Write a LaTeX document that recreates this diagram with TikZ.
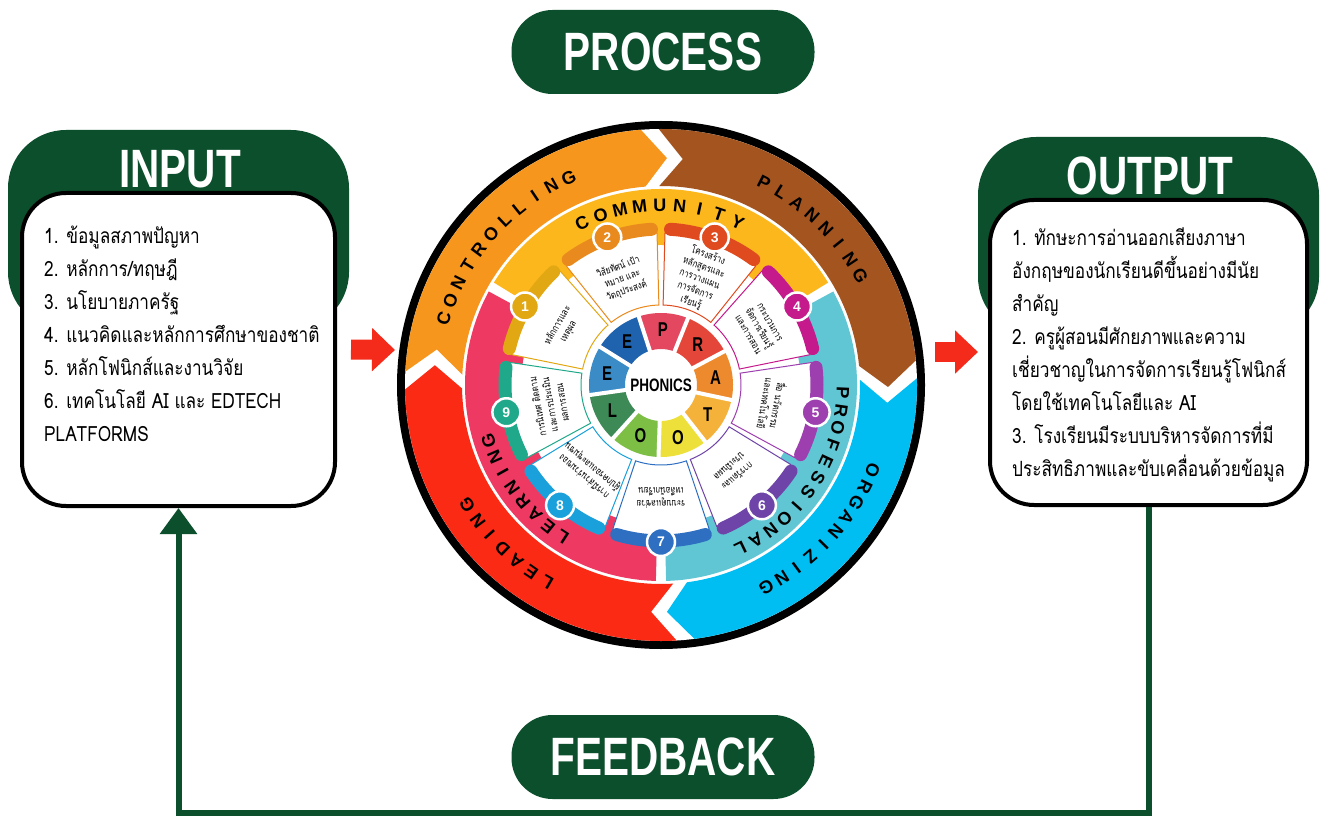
\documentclass[tikz,border=0pt]{standalone}
\usepackage{fontspec}
\setmainfont{Liberation Sans}
\newfontfamily\headfont[FakeStretch=0.75]{Liberation Sans}
\newfontfamily\thaifont[Script=Thai,FakeStretch=0.8]{Loma}
\newfontfamily\thaibox[Script=Thai,FakeStretch=0.82]{Loma}
\usetikzlibrary{arrows.meta, positioning, calc}

\definecolor{darkgreen}{HTML}{0C4F2C}
\definecolor{arrowred}{HTML}{F42A1B}
\definecolor{ctrlorange}{HTML}{F7961C}
\definecolor{planbrown}{HTML}{A3541F}
\definecolor{orgcyan}{HTML}{00BDF2}
\definecolor{leadred}{HTML}{FA2A14}
\definecolor{commyellow}{HTML}{FBB71C}
\definecolor{profteal}{HTML}{60C6D3}
\definecolor{learnpink}{HTML}{EE3A62}
\definecolor{seggold}{HTML}{E2A814}
\definecolor{segorange}{HTML}{E98A1E}
\definecolor{segred}{HTML}{E04A1F}
\definecolor{segmagenta}{HTML}{C51A8C}
\definecolor{segpurple}{HTML}{9D3FAE}
\definecolor{segviolet}{HTML}{6E44A8}
\definecolor{segblue}{HTML}{2E6FC2}
\definecolor{segsky}{HTML}{1AA0DA}
\definecolor{segteal}{HTML}{1FA98A}
\definecolor{lpink}{HTML}{E34860}
\definecolor{lred}{HTML}{E4473A}
\definecolor{lorange}{HTML}{EE8A2E}
\definecolor{lamber}{HTML}{F4B23A}
\definecolor{lyellow}{HTML}{EEE03A}
\definecolor{lgreen}{HTML}{7DBE45}
\definecolor{ldkgreen}{HTML}{3D8A56}
\definecolor{llblue}{HTML}{3B8BC6}
\definecolor{ldblue}{HTML}{1F62AE}

\tikzset{
  pill/.style={fill=darkgreen, rounded corners=41pt, minimum width=303pt, minimum height=84pt,
    text=white, font=\headfont\bfseries\fontsize{54}{54}\selectfont},
  tab/.style={fill=darkgreen, rounded corners=58pt},
  title/.style={text=white, inner sep=0pt, font=\headfont\bfseries\fontsize{54}{54}\selectfont},
  listbox/.style={draw=black, line width=4pt, fill=white, rounded corners=44pt, inner sep=0pt},
  listtext/.style={anchor=north west, inner sep=0pt, align=left, font=\thaibox\fontsize{21}{33}\selectfont},
  redarr/.style={arrowred, line width=20pt, -{Triangle[length=23pt 0, width=42pt 0]}},
  fbline/.style={darkgreen, line width=6pt, -{Triangle[length=26pt 0, width=36pt 0]}},
  ringletter/.style={inner sep=0pt, font=\bfseries\fontsize{18}{18}\selectfont},
  badge/.style={circle, fill=#1, draw=white, line width=2.5pt, minimum size=28pt, inner sep=0pt,
    text=white, font=\bfseries\fontsize{14}{14}\selectfont},
  segtext/.style={align=center, inner sep=0pt, font=\thaifont\fontsize{10}{12.5}\selectfont},
  letter/.style={inner sep=0pt, font=\headfont\bfseries\fontsize{20}{20}\selectfont},
}

% letters set one by one round an arc, read clockwise
\newcommand{\ringword}[5]{%
  \foreach \ch [count=\i] in {#2} {
    \pgfmathsetmacro\ang{#3-(\i-1)*#4}
    \node[ringletter, rotate=\ang-90] (#1\i) at (\ang:#5) {\ch};
  }}

\begin{document}
\begin{tikzpicture}[x=1pt, y=1pt]
  \fill[white] (0,0) rectangle (1320,-818);
  \useasboundingbox (0,0) rectangle (1320,-818);

  % headings
  \node[pill] (process) at (663,-52) {PROCESS};
  \node[pill] (feedback) at (663,-757) {FEEDBACK};

  % input
  \fill[tab] (8,-130) rectangle (349,-330);
  \node[title] (intitle) at (180,-169) {INPUT};
  \node[listbox, minimum width=313pt, minimum height=313pt] (inbox) at (178.5,-349.5) {};
  \node[listtext] (intext) at (44,-226) {1. ข้อมูลสภาพปัญหา\\2. หลักการ/ทฤษฎี\\3. นโยบายภาครัฐ\\4. แนวคิดและหลักการศึกษาของชาติ\\5. หลักโฟนิกส์และงานวิจัย\\6. เทคโนโลยี AI และ EDTECH\\PLATFORMS};

  % output
  \fill[tab] (978,-137) rectangle (1319,-335);
  \node[title] (outtitle) at (1150,-176) {OUTPUT};
  \node[listbox, minimum width=317pt, minimum height=305pt] (outbox) at (1148.5,-352.5) {};
  \node[listtext] (outtext) at (1012,-228) {1. ทักษะการอ่านออกเสียงภาษา\\อังกฤษของนักเรียนดีขึ้นอย่างมีนัย\\สำคัญ\\2. ครูผู้สอนมีศักยภาพและความ\\เชี่ยวชาญในการจัดการเรียนรู้โฟนิกส์\\โดยใช้เทคโนโลยีและ AI\\3. โรงเรียนมีระบบบริหารจัดการที่มี\\ประสิทธิภาพและขับเคลื่อนด้วยข้อมูล};

  % wheel
  \node[circle, fill=black, minimum size=528pt, inner sep=0pt] (wheel) at (661,-385) {};
  \begin{scope}[shift={(wheel.center)}]
    \fill[white] (0,0) circle[radius=256];
    % process ring, chevron ends
    \foreach \s/\e/\col in {179/92.5/ctrlorange, 92.5/3.5/planbrown, 3.5/-84.5/orgcyan, -84.5/-181/leadred}
      \fill[\col] ({\s-2}:256) arc[start angle=\s-2, end angle=\e+2, radius=256] -- ({\e-4}:227)
        -- ({\e+2}:199) arc[start angle=\e+2, end angle=\s-2, radius=199] -- ({\s-8}:227) -- cycle;
    % community / professional / learning ring
    \foreach \a/\b/\col in {148.5/31.5/commyellow, 28.5/-88.5/profteal, -91.5/-208.5/learnpink}
      \fill[\col] (\a:196) arc[start angle=\a, end angle=\b, radius=196] -- (\b:140)
        arc[start angle=\b, end angle=\a, radius=140] -- cycle;
    \ringword{ctrl}{C,O,N,T,R,O,L,L,I,N,G}{163}{4.9}{227}
    \ringword{plan}{P,L,A,N,N,I,N,G}{63}{4.9}{227}
    \ringword{org}{O,R,G,A,N,I,Z,I,N,G}{-22}{4.5}{228}
    \ringword{lead}{L,E,A,D,I,N,G}{-120}{4.7}{228}
    \ringword{comm}{C,O,M,M,U,N,I,T,Y}{116}{6.4}{180}
    \ringword{prof}{P,R,O,F,E,S,S,I,O,N,A,L}{-2.5}{5.6}{182}
    \ringword{lrn}{L,E,A,R,N,I,N,G}{-123}{5.6}{181}
    % nine steps
    \foreach \n/\col/\txt in {
        1/seggold/{หลักการและ\\เหตุผล},
        2/segorange/{วิสัยทัศน์ เป้า\\หมาย และ\\วัตถุประสงค์},
        3/segred/{โครงสร้าง\\หลักสูตรและ\\การวางแผน\\การจัดการ\\เรียนรู้},
        4/segmagenta/{กระบวนการ\\จัดการเรียนรู้\\และการสอน},
        5/segpurple/{สื่อ นวัตกรรม\\และเทคโนโลยี},
        6/segviolet/{การวัดและ\\ประเมินผล},
        7/segblue/{ระบบดูแลช่วย\\เหลือนักเรียน},
        8/segsky/{การมีส่วนร่วมของ\\ผู้ปกครองและชุมชน},
        9/segteal/{การนิเทศ ติดตาม\\และการประเมิน\\ผลการสอน}} {
      \pgfmathsetmacro\ang{190-40*\n}
      \filldraw[fill=white, draw=\col, line width=1pt] ({\ang+18.5}:80)
        arc[start angle=\ang+18.5, end angle=\ang-18.5, radius=80] -- ({\ang-18.5}:152)
        arc[start angle=\ang-18.5, end angle=\ang+18.5, radius=152] -- cycle;
      \draw[\col, line width=13pt, line cap=round] ({\ang+16.5}:156)
        arc[start angle=\ang+16.5, end angle=\ang-16.5, radius=156];
      \node[badge=\col] (step\n) at (\ang:157) {\n};
      \node[segtext, rotate=\ang-90] (steptext\n) at (\ang:113) {\txt};
    }
    % phonics core
    \foreach \L/\col [count=\k] in {P/lpink, R/lred, A/lorange, T/lamber, O/lyellow, O/lgreen, L/ldkgreen, E/llblue, E/ldblue} {
      \pgfmathsetmacro\ang{128-40*\k}
      \fill[\col] ({\ang+20}:36) arc[start angle=\ang+20, end angle=\ang-20, radius=36]
        -- ({\ang-20}:72) arc[start angle=\ang-20, end angle=\ang+20, radius=72] -- cycle;
      \node[letter] (ltr\k) at (\ang:55) {\L};
    }
    \foreach \k in {1,...,9}
      \draw[white, line width=4pt] ({108-40*\k}:30) -- ({108-40*\k}:76);
    \node[inner sep=0pt, font=\headfont\bfseries\fontsize{18}{18}\selectfont] (hub) at (0,0) {PHONICS};
  \end{scope}

  % connectors
  \coordinate (wheelW) at (395,-350);
  \coordinate (wheelE) at (935,-352);
  \coordinate (fb) at (663,-813);
  \draw[redarr] ([xshift=14pt]inbox.east) -- (wheelW);
  \draw[redarr] (wheelE) -- ([xshift=-10pt]outbox.west |- wheelE);
  \draw[fbline] (outbox.south) |- (fb) -| (inbox.south);
\end{tikzpicture}
\end{document}
